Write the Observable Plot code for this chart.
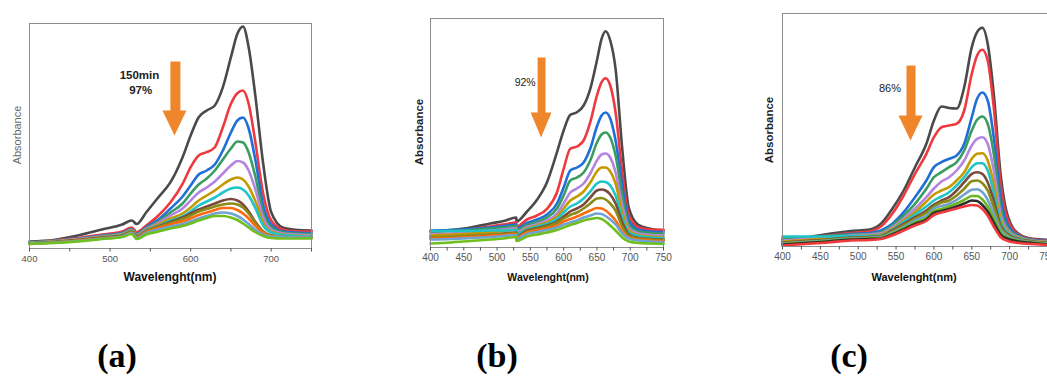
<!DOCTYPE html>
<html>
<head>
<meta charset="utf-8">
<script src="https://cdn.jsdelivr.net/npm/d3@7"></script>
<script src="https://cdn.jsdelivr.net/npm/@observablehq/plot@0.6"></script>
<style>
  html, body { margin: 0; padding: 0; background: #fff; overflow: hidden; }
  #root { position: relative; width: 1047px; height: 378px; font-family: "Liberation Sans", Arial, sans-serif; }
  .pnl { position: absolute; top: 0; }
  .pnl svg { max-width: none; display: block; }
  .lbl { position: absolute; transform: translate(-50%, -50%); white-space: nowrap; }
  .ylab { transform: translate(-50%, -50%) rotate(-90deg); }
  .cap { position: absolute; transform: translate(-50%, 0); font-family: "Liberation Serif", "Times New Roman", serif; font-weight: bold; font-size: 34px; color: #000; }
</style>
</head>
<body>
<div id="root"></div>
<script>
// ---------- Panel (a) ----------
const wlA = [400,430,460,490,515,527,533,545,560,575,590,600,610,620,630,640,650,658,665,672,680,690,700,715,730,750];
const colorsA = ["#4a4a4a","#ee3a3e","#1f6fd6","#3b9c62","#b485e0","#c49a00","#1ec4c8","#7a4a3e","#8a8a14","#ff6a10","#6ea3d2","#6fbf1e"];
const absA = [
  [.07,.085,.13,.19,.24,.28,.245,.363,.513,.663,.913,1.13,1.313,1.38,1.43,1.613,1.913,2.147,2.22,2.013,1.547,.85,.363,.207,.187,.18],
  [.06,.08,.105,.14,.17,.21,.163,.23,.33,.463,.647,.813,.93,.963,1.013,1.213,1.447,1.553,1.58,1.447,1.08,.547,.28,.187,.173,.17],
  [.06,.075,.10,.13,.155,.195,.145,.215,.29,.40,.52,.63,.74,.78,.84,.98,1.16,1.28,1.31,1.20,.90,.43,.24,.17,.16,.155],
  [.06,.075,.095,.125,.15,.19,.14,.205,.27,.36,.45,.55,.64,.70,.78,.89,1.00,1.07,1.06,.96,.73,.36,.21,.16,.15,.145],
  [.06,.07,.095,.12,.145,.185,.135,.195,.255,.33,.40,.48,.56,.61,.67,.75,.83,.875,.86,.78,.60,.31,.19,.15,.14,.135],
  [.055,.07,.09,.115,.14,.18,.13,.185,.24,.30,.35,.41,.48,.53,.58,.64,.69,.71,.69,.62,.48,.26,.17,.14,.13,.125],
  [.055,.065,.085,.11,.135,.175,.125,.18,.225,.28,.32,.37,.43,.47,.51,.56,.60,.61,.59,.53,.41,.23,.16,.135,.125,.12],
  [.05,.065,.085,.11,.13,.17,.12,.175,.22,.265,.31,.35,.39,.42,.45,.48,.495,.48,.44,.37,.27,.17,.13,.115,.11,.11],
  [.05,.06,.08,.105,.125,.165,.115,.17,.215,.255,.295,.33,.37,.395,.42,.44,.45,.44,.41,.35,.26,.17,.13,.115,.11,.11],
  [.045,.06,.08,.10,.12,.16,.11,.165,.205,.24,.27,.30,.335,.36,.385,.405,.405,.385,.35,.30,.23,.16,.125,.115,.11,.11],
  [.05,.06,.075,.10,.12,.155,.105,.155,.19,.22,.245,.27,.30,.325,.35,.36,.35,.325,.29,.245,.19,.14,.12,.115,.11,.11],
  [.05,.055,.07,.095,.115,.145,.095,.14,.17,.20,.225,.25,.28,.305,.325,.325,.31,.285,.25,.21,.165,.125,.105,.10,.10,.10]
];
const arrowA = [[574.9,1.87],[587.3,1.87],[587.3,1.38],[594.8,1.38],[579.9,1.13],[565.0,1.38],[574.9,1.38]];
const notesA = [{w:536.5,a:1.73,t:"150min"},{w:538,a:1.58,t:"97%"}];

// ---------- Panel (b) ----------
const wlB = [400,430,460,490,510,528.9,529,545,560,575,590,600,610,620,630,640,650,657,663,670,678,688,698,712,730,750];
const colorsB = ["#4a4a4a","#ee3a3e","#1f6fd6","#3b9c62","#b485e0","#c49a00","#1ec4c8","#7a4a3e","#8a8a14","#ff6a10","#6ea3d2","#6fbf1e"];
const absB = [
  [.16,.175,.20,.24,.265,.30,.26,.36,.477,.653,.953,1.17,1.327,1.353,1.42,1.587,1.87,2.087,2.163,2.07,1.787,.987,.393,.227,.187,.17],
  [.16,.17,.185,.21,.23,.25,.21,.28,.32,.387,.553,.787,.987,1.01,1.07,1.253,1.52,1.653,1.693,1.62,1.353,.753,.32,.203,.18,.177],
  [.17,.175,.185,.20,.215,.23,.19,.245,.28,.33,.44,.60,.77,.80,.85,.99,1.21,1.32,1.35,1.29,1.07,.62,.27,.18,.16,.155],
  [.16,.165,.175,.19,.20,.215,.175,.225,.255,.30,.39,.52,.67,.70,.75,.87,1.05,1.13,1.15,1.10,.92,.52,.23,.16,.145,.14],
  [.13,.14,.155,.17,.18,.195,.155,.205,.235,.27,.34,.44,.55,.59,.64,.74,.87,.93,.94,.90,.75,.42,.19,.14,.125,.12],
  [.12,.13,.14,.155,.165,.18,.14,.19,.22,.25,.31,.39,.47,.51,.56,.65,.76,.80,.80,.76,.64,.35,.17,.125,.11,.105],
  [.165,.165,.165,.17,.17,.175,.135,.18,.21,.235,.285,.35,.41,.44,.49,.56,.64,.66,.655,.62,.52,.30,.15,.115,.10,.095],
  [.10,.105,.115,.13,.14,.15,.11,.17,.195,.22,.26,.31,.36,.39,.43,.50,.57,.58,.57,.53,.44,.25,.13,.095,.085,.08],
  [.105,.11,.12,.13,.135,.145,.105,.16,.185,.21,.245,.29,.325,.35,.39,.44,.49,.495,.48,.44,.37,.21,.12,.09,.08,.075],
  [.09,.095,.105,.12,.125,.135,.095,.15,.17,.19,.22,.26,.285,.31,.34,.37,.395,.39,.37,.33,.27,.16,.10,.08,.07,.065],
  [.08,.085,.095,.105,.115,.125,.085,.135,.155,.175,.20,.23,.25,.27,.30,.32,.34,.335,.315,.28,.23,.14,.09,.07,.06,.055],
  [.04,.05,.065,.08,.09,.105,.065,.11,.13,.15,.175,.20,.225,.245,.27,.285,.295,.285,.26,.22,.17,.10,.06,.045,.04,.035]
];
const arrowB = [[560.9,1.90],[572.8,1.90],[572.8,1.35],[581.7,1.35],[566.1,1.10],[550.4,1.35],[560.9,1.35]];
const notesB = [{w:542.2,a:1.65,t:"92%"}];

// ---------- Panel (c) ----------
const wlC = [400,430,460,490,515,530,545,560,575,590,600,610,620,630,640,650,657,664,671,679,688,698,712,730,750];
const colorsC = ["#4a4a4a","#ee3a3e","#1f6fd6","#3b9c62","#b485e0","#c49a00","#1ec4c8","#7a4a3e","#8a8a14","#6ea3d2","#6cb51f","#2e2e2e","#f03b3b"];
const absC = [
  [.06,.09,.125,.155,.17,.227,.377,.56,.793,1.027,1.26,1.40,1.385,1.38,1.593,1.993,2.143,2.187,2.027,1.527,.727,.293,.127,.077,.067],
  [.05,.08,.11,.135,.15,.20,.327,.51,.727,.927,1.093,1.193,1.21,1.227,1.36,1.727,1.91,1.967,1.86,1.393,.627,.26,.12,.073,.06],
  [.07,.085,.105,.125,.135,.16,.227,.343,.493,.66,.793,.843,.877,.91,1.027,1.293,1.477,1.54,1.46,1.093,.493,.21,.11,.067,.053],
  [.08,.09,.105,.12,.125,.143,.21,.31,.427,.577,.693,.743,.793,.843,.96,1.16,1.267,1.30,1.227,.927,.393,.177,.10,.06,.05],
  [.06,.075,.09,.11,.12,.133,.193,.277,.377,.493,.58,.65,.693,.76,.86,1.01,1.077,1.093,1.027,.76,.327,.16,.093,.06,.047],
  [.05,.065,.08,.10,.11,.12,.177,.26,.343,.45,.52,.56,.593,.66,.743,.877,.927,.933,.86,.627,.277,.143,.087,.057,.043],
  [.10,.10,.10,.105,.105,.11,.167,.243,.32,.40,.46,.50,.543,.61,.693,.793,.833,.833,.76,.543,.243,.133,.08,.053,.04],
  [.04,.055,.07,.09,.095,.103,.16,.227,.293,.36,.42,.46,.493,.56,.643,.727,.743,.727,.643,.46,.21,.12,.073,.05,.037],
  [.035,.05,.065,.085,.09,.10,.15,.21,.277,.34,.40,.44,.46,.51,.577,.653,.66,.633,.56,.393,.193,.11,.067,.047,.033],
  [.03,.045,.06,.08,.085,.093,.14,.193,.26,.31,.38,.405,.427,.467,.52,.567,.573,.543,.467,.327,.167,.10,.063,.043,.03],
  [.025,.04,.055,.075,.08,.085,.13,.18,.24,.285,.355,.375,.40,.43,.465,.505,.505,.47,.40,.28,.14,.085,.055,.04,.025],
  [.02,.035,.05,.07,.075,.08,.12,.17,.225,.27,.335,.355,.375,.40,.43,.46,.455,.415,.35,.24,.12,.075,.05,.035,.02],
  [.01,.025,.04,.06,.065,.075,.11,.16,.21,.255,.315,.34,.36,.38,.40,.415,.41,.375,.31,.20,.095,.055,.035,.025,.015]
];
const arrowC = [[563.8,1.81],[575.7,1.81],[575.7,1.31],[584.9,1.31],[569.1,1.06],[553.2,1.31],[563.8,1.31]];
const notesC = [{w:542,a:1.58,t:"86%"}];

// ---------- Ticks ----------
const ticksA = d3.range(400, 751, 50);
const ticksBC = d3.range(400, 751, 25);

function panel(o) {
  const marks = [];
  o.rows.forEach((r, i) => {
    const data = o.wl.map((w, j) => ({w, a: r[j]}));
    marks.push(Plot.line(data, {x: "w", y: "a", stroke: o.colors[i], strokeWidth: 2.6, curve: "monotone-x", strokeLinejoin: "round"}));
  });
  marks.push(Plot.line(o.arrow, {x: d => d[0], y: d => d[1], fill: "#f0862b", stroke: "none"}));
  marks.push(Plot.text(o.notes, {x: "w", y: "a", text: "t", fontSize: o.noteSize, fontWeight: o.noteWeight, fill: "#222", fontFamily: "Liberation Sans, Arial, sans-serif"}));
  marks.push(Plot.frame({stroke: "#8c8c8c", strokeWidth: 1}));
  marks.push(Plot.axisX(o.ticks, {
    tickFormat: d => (d % o.labelEvery === 0 && d <= o.lastLabel) ? String(d) : "",
    tickSize: 3.5, tickPadding: 3, color: "#555", fontSize: o.tickSize,
    fontFamily: o.tickFont, label: null
  }));
  return Plot.plot({
    width: o.width, height: o.height,
    marginLeft: o.mL, marginRight: o.mR, marginTop: o.mT, marginBottom: o.mB,
    x: {domain: [400, 750], label: null},
    y: {domain: [0, o.yMax], axis: null},
    style: {background: "transparent", overflow: "visible"},
    marks
  });
}

const root = document.getElementById("root");
function place(el, left) {
  const d = document.createElement("div");
  d.className = "pnl"; d.style.left = left + "px";
  d.appendChild(el); root.appendChild(d);
}
function label(text, x, y, css, cls) {
  const d = document.createElement("div");
  d.className = "lbl" + (cls ? " " + cls : "");
  d.textContent = text;
  d.style.left = x + "px"; d.style.top = y + "px";
  Object.assign(d.style, css);
  root.appendChild(d);
}

place(panel({wl: wlA, rows: absA, colors: colorsA, arrow: arrowA, notes: notesA, noteSize: 11.5, noteWeight: "bold",
  yMax: 2.25, width: 340, height: 300, mL: 29, mR: 29, mT: 23, mB: 52,
  ticks: ticksA, labelEvery: 100, lastLabel: 700, tickSize: 9.5, tickFont: "Liberation Sans, Arial, sans-serif"}), 0);
place(panel({wl: wlB, rows: absB, colors: colorsB, arrow: arrowB, notes: notesB, noteSize: 10.5, noteWeight: "normal",
  yMax: 2.29, width: 350, height: 300, mL: 90, mR: 27, mT: 18, mB: 53,
  ticks: ticksBC, labelEvery: 50, lastLabel: 750, tickSize: 10, tickFont: "Liberation Sans Narrow, Arial Narrow, sans-serif"}), 340);
place(panel({wl: wlC, rows: absC, colors: colorsC, arrow: arrowC, notes: notesC, noteSize: 11, noteWeight: "normal",
  yMax: 2.33, width: 357, height: 300, mL: 92, mR: 0, mT: 13, mB: 54,
  ticks: ticksBC, labelEvery: 50, lastLabel: 750, tickSize: 10, tickFont: "Liberation Sans Narrow, Arial Narrow, sans-serif"}), 690);

// axis titles
label("Absorbance", 17, 135, {fontSize: "11px", color: "#6a6a6a"}, "ylab");
label("Absorbance", 419, 132, {fontSize: "11.5px", fontWeight: "bold", color: "#222"}, "ylab");
label("Absorbance", 769, 130, {fontSize: "11.5px", fontWeight: "bold", color: "#222"}, "ylab");
label("Wavelenght(nm)", 170, 277, {fontSize: "12px", fontWeight: "bold", color: "#111"});
label("Wavelenght(nm)", 548, 277, {fontSize: "10.5px", fontWeight: "bold", color: "#111"});
label("Wavelenght(nm)", 914, 277, {fontSize: "11px", fontWeight: "bold", color: "#111"});

// panel captions
const captions = [["(a)", 117], ["(b)", 497], ["(c)", 849]];
captions.forEach(([t, x]) => {
  const d = document.createElement("div");
  d.className = "cap"; d.textContent = t;
  d.style.left = x + "px"; d.style.top = "337px";
  root.appendChild(d);
});
</script>
</body>
</html>
